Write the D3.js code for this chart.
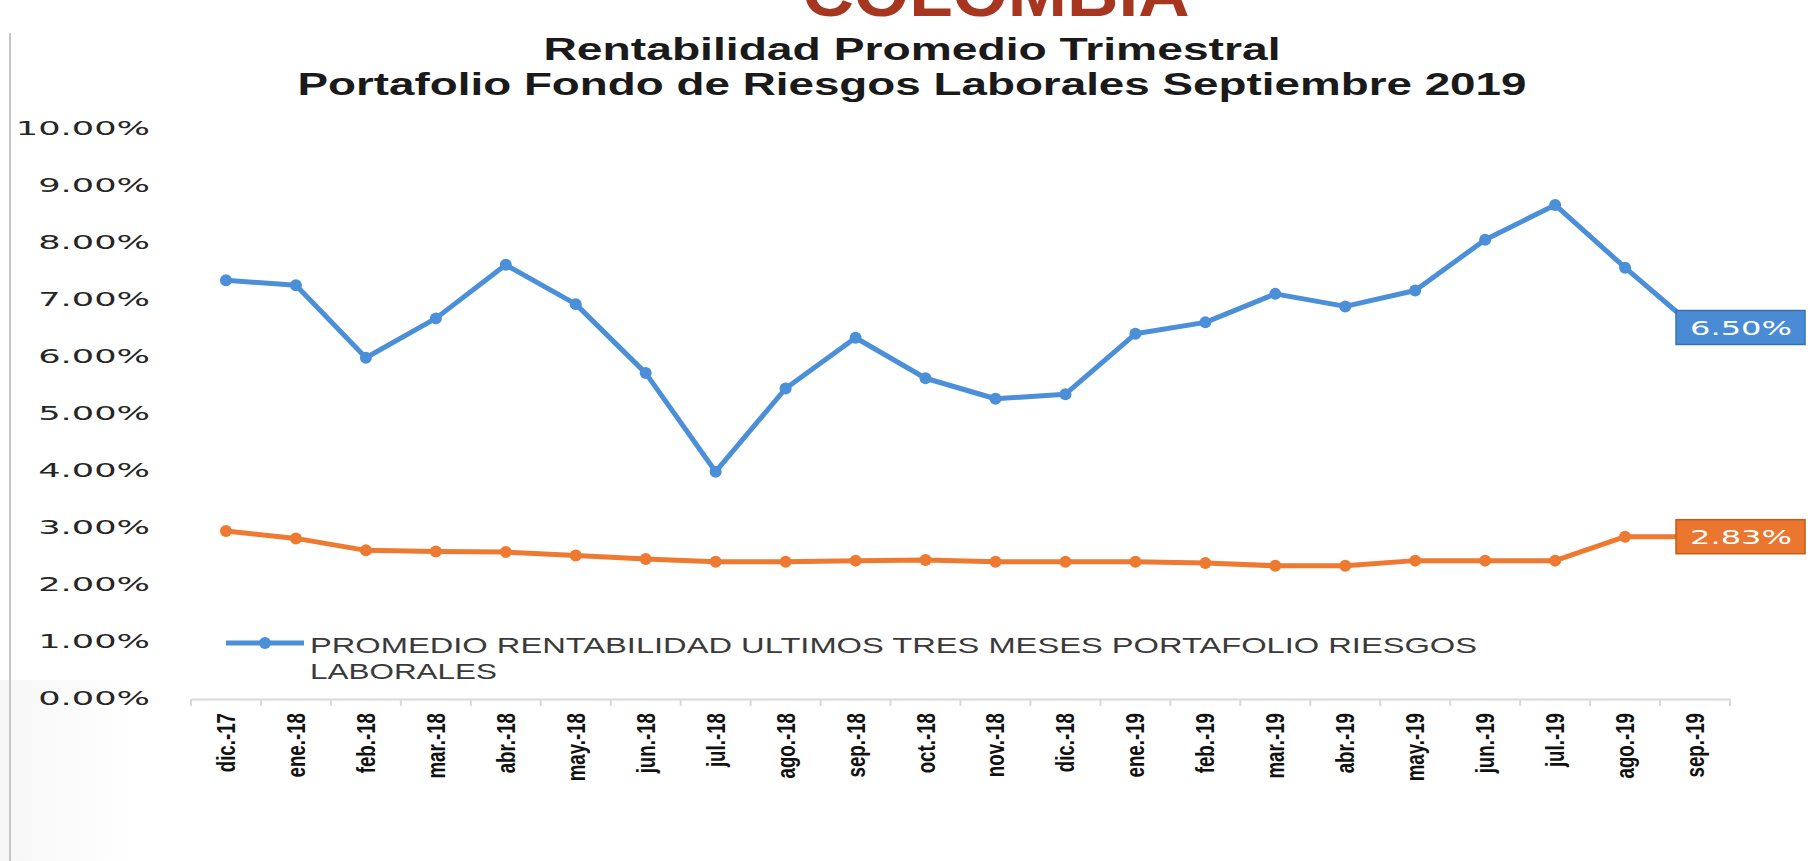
<!DOCTYPE html>
<html>
<head>
<meta charset="utf-8">
<script src="https://cdn.jsdelivr.net/npm/d3@7"></script>
<style>
  html, body { margin: 0; padding: 0; background: #fff; overflow: hidden; }
  svg { display: block; }
</style>
</head>
<body>
<svg id="chart"></svg>
<script>
// months on the x axis
var categories = ["dic.-17","ene.-18","feb.-18","mar.-18","abr.-18","may.-18","jun.-18","jul.-18",
  "ago.-18","sep.-18","oct.-18","nov.-18","dic.-18","ene.-19","feb.-19","mar.-19","abr.-19",
  "may.-19","jun.-19","jul.-19","ago.-19","sep.-19"];

// promedio rentabilidad ultimos tres meses (%)
var portafolio = [7.33,7.24,5.97,6.66,7.60,6.91,5.70,3.97,5.43,6.32,5.61,5.25,5.33,6.39,6.59,
  7.09,6.87,7.15,8.04,8.65,7.55,6.50];
// second series (orange)
var referencia = [2.93,2.80,2.59,2.57,2.56,2.50,2.44,2.39,2.39,2.41,2.42,2.39,2.39,2.39,2.37,
  2.32,2.32,2.41,2.41,2.41,2.83,2.83];

var yTicks = [0,1,2,3,4,5,6,7,8,9,10];

var titleLines = ["Rentabilidad Promedio Trimestral",
  "Portafolio Fondo de Riesgos Laborales Septiembre 2019"];
var legendLines = ["PROMEDIO RENTABILIDAD ULTIMOS TRES MESES PORTAFOLIO RIESGOS", "LABORALES"];

var width = 1812, height = 861;
var blue = "#4a8fd8", orange = "#ed7a30";

var svg = d3.select("#chart").attr("width", width).attr("height", height);

// stretch text horizontally like the (wide) original
function stretch(sel, k) {
  sel.each(function() {
    var l = this.getComputedTextLength();
    d3.select(this).attr("textLength", l * k).attr("lengthAdjust", "spacingAndGlyphs");
  });
}

// faint slide decoration
var defs = svg.append("defs");
var grad = defs.append("linearGradient").attr("id", "shade").attr("x1", 0).attr("x2", 1).attr("y1", 0).attr("y2", 0);
grad.append("stop").attr("offset", 0).attr("stop-color", "#ececec");
grad.append("stop").attr("offset", 1).attr("stop-color", "#ffffff");
svg.append("rect").attr("x", 0).attr("y", 680).attr("width", 135).attr("height", 181).attr("fill", "url(#shade)").attr("opacity", 0.45);
svg.append("line").attr("x1", 10).attr("x2", 10).attr("y1", 33).attr("y2", height)
  .attr("stroke", "#c6c6c6").attr("stroke-width", 2);

// cut-off heading on top (only its lower half is visible in the original)
svg.append("text").attr("x", 996).attr("y", 16).attr("text-anchor", "middle")
  .style("font-family", "Liberation Sans, Arial, sans-serif").style("font-weight", "bold")
  .style("font-size", "66px").attr("fill", "#a6361f")
  .attr("textLength", 387).attr("lengthAdjust", "spacingAndGlyphs")
  .text("COLOMBIA");

// chart title
var titleW = [737, 1229];
svg.selectAll("text.title").data(titleLines).join("text")
  .attr("class", "title")
  .attr("x", 912).attr("y", function(d, i) { return i === 0 ? 60 : 95; })
  .attr("text-anchor", "middle")
  .style("font-family", "Liberation Sans, Arial, sans-serif").style("font-weight", "bold")
  .style("font-size", "32px").attr("fill", "#1a1a1a")
  .attr("textLength", function(d, i) { return titleW[i]; })
  .attr("lengthAdjust", "spacingAndGlyphs")
  .text(function(d) { return d; });

// scales
var x = d3.scaleBand().domain(categories).range([191, 1730]);
var cx = function(c) { return x(c) + x.bandwidth() / 2; };
var y = d3.scaleLinear().domain([0, 10]).range([698, 128]);

// y axis labels
var yAxis = svg.append("g").attr("transform", "translate(150,0)")
  .call(d3.axisLeft(y).tickValues(yTicks).tickSize(0).tickPadding(0)
    .tickFormat(function(d) { return d.toFixed(2) + "%"; }));
yAxis.select(".domain").remove();
yAxis.selectAll("text")
  .style("font-family", "DejaVu Sans, Verdana, sans-serif").style("font-size", "20px")
  .attr("fill", "#262626");
stretch(yAxis.selectAll("text"), 1.76);

// x axis
var xAxis = svg.append("g").attr("transform", "translate(0,699)")
  .call(d3.axisBottom(x).tickSize(0).tickFormat(""));
xAxis.select(".domain").attr("stroke", "#d9d9d9").attr("stroke-width", 2);
var edges = categories.map(function(c) { return x(c); }).concat([x.range()[1]]);
xAxis.selectAll("line.edge").data(edges).join("line").attr("class", "edge")
  .attr("x1", function(d) { return d; }).attr("x2", function(d) { return d; })
  .attr("y1", 0).attr("y2", 7).attr("stroke", "#d9d9d9").attr("stroke-width", 2);

var xl = svg.append("g").selectAll("text").data(categories).join("text")
  .attr("transform", function(d) { return "translate(" + (cx(d) + 9) + ",713) rotate(-90)"; })
  .attr("text-anchor", "end")
  .style("font-family", "Liberation Sans, Arial, sans-serif").style("font-weight", "bold")
  .style("font-size", "26px").attr("fill", "#111")
  .text(function(d) { return d; });
stretch(xl, 0.72);

// lines and markers
var line = d3.line()
  .x(function(d, i) { return cx(categories[i]); })
  .y(function(d) { return y(d); });

[[referencia, orange], [portafolio, blue]].forEach(function(s) {
  svg.append("path").datum(s[0]).attr("d", line)
    .attr("fill", "none").attr("stroke", s[1]).attr("stroke-width", 5)
    .attr("stroke-linejoin", "round");
  svg.append("g").selectAll("circle").data(s[0]).join("circle")
    .attr("cx", function(d, i) { return cx(categories[i]); })
    .attr("cy", function(d) { return y(d); })
    .attr("r", 6).attr("fill", s[1]);
});

// end labels
function endLabel(vals, fill, stroke) {
  var last = vals[vals.length - 1];
  var lx = cx(categories[categories.length - 1]) - 19, ly = y(last);
  svg.append("rect").attr("x", lx).attr("y", ly - 17).attr("width", 129).attr("height", 34)
    .attr("fill", fill).attr("stroke", stroke).attr("stroke-width", 1.5);
  svg.append("text").attr("x", lx + 65).attr("y", ly + 7).attr("text-anchor", "middle")
    .style("font-family", "DejaVu Sans, Verdana, sans-serif").style("font-size", "19px")
    .attr("fill", "#fff").attr("textLength", 102).attr("lengthAdjust", "spacingAndGlyphs")
    .text(last.toFixed(2) + "%");
}
endLabel(portafolio, "#4a8bd6", "#3a70b0");
endLabel(referencia, "#ea7630", "#c45a14");

// legend (only the blue series shows in the picture)
var lg = svg.append("g");
lg.append("line").attr("x1", 226).attr("x2", 304).attr("y1", 643).attr("y2", 643)
  .attr("stroke", blue).attr("stroke-width", 5);
lg.append("circle").attr("cx", 265).attr("cy", 643).attr("r", 6).attr("fill", blue);
var legendW = [1167, 187];
lg.selectAll("text").data(legendLines).join("text")
  .attr("x", 310).attr("y", function(d, i) { return 653 + i * 26; })
  .style("font-family", "Liberation Sans, Arial, sans-serif").style("font-size", "22px")
  .attr("fill", "#3a3a3a")
  .attr("textLength", function(d, i) { return legendW[i]; })
  .attr("lengthAdjust", "spacingAndGlyphs")
  .text(function(d) { return d; });
</script>
</body>
</html>
